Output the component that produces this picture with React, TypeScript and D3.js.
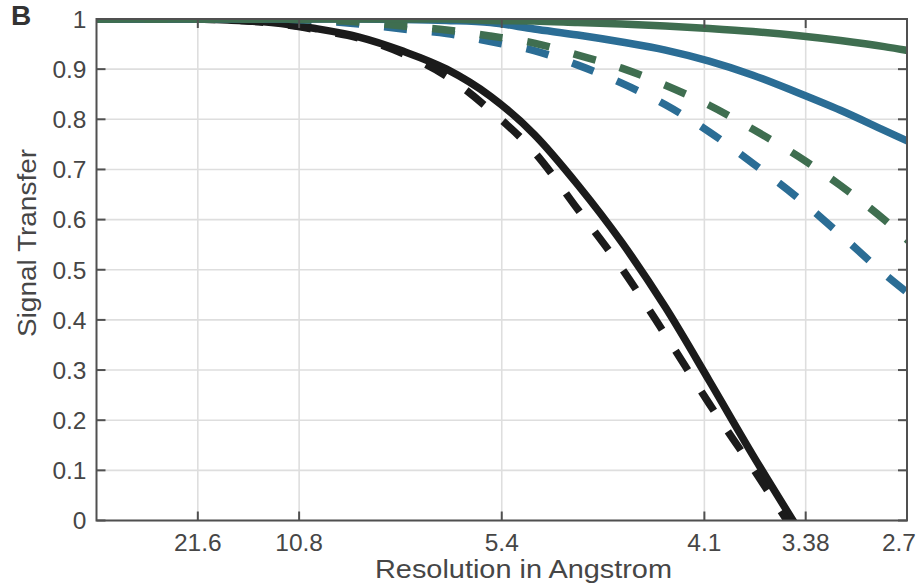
import React from "react";
import * as d3 from "d3";

// Spatial frequency (1/Å) sampling of the curves
const FREQ = [0, 0.02, 0.04, 0.06, 0.08, 0.1, 0.12, 0.14, 0.16, 0.18, 0.2, 0.22, 0.24, 0.26, 0.28, 0.3, 0.32, 0.34, 0.36, 0.371];

const BLACK_SOLID = [1, 1, 1, 0.998, 0.993, 0.981, 0.964, 0.936, 0.9, 0.846, 0.77, 0.669, 0.555, 0.425, 0.279, 0.13, -0.012, null, null, null];
const BLACK_DASHED = [1, 1, 1, 0.998, 0.992, 0.979, 0.962, 0.931, 0.886, 0.818, 0.735, 0.62, 0.503, 0.37, 0.233, 0.104, -0.03, null, null, null];
const BLUE_SOLID = [1, 1, 1, 1, 1, 1, 1, 0.999, 0.997, 0.993, 0.98, 0.968, 0.954, 0.938, 0.916, 0.888, 0.854, 0.818, 0.778, 0.756];
const BLUE_DASHED = [1, 1, 1, 1, 1, 0.997, 0.99, 0.98, 0.971, 0.955, 0.937, 0.908, 0.872, 0.829, 0.775, 0.712, 0.645, 0.57, 0.492, 0.453];
const GREEN_SOLID = [1, 1, 1, 1, 1, 1, 1, 1, 1, 0.997, 0.996, 0.993, 0.99, 0.986, 0.981, 0.975, 0.967, 0.957, 0.945, 0.937];
const GREEN_DASHED = [1, 1, 1, 1, 1, 0.998, 0.994, 0.986, 0.978, 0.966, 0.952, 0.928, 0.902, 0.868, 0.828, 0.78, 0.728, 0.668, 0.6, 0.558];

const X_TICK_FREQ = [0.0463, 0.0926, 0.1852, 0.2778, 0.3241, 0.3704];
const X_TICK_LABELS = ["21.6", "10.8", "5.4", "4.1", "3.38", "2.7"];
const Y_TICKS = [0, 0.1, 0.2, 0.3, 0.4, 0.5, 0.6, 0.7, 0.8, 0.9, 1];

const W = 918;
const H = 587;
const L = 96.5;
const R = 907;
const T = 19;
const B = 520.5;

const FONT = "'Liberation Sans', Arial, Helvetica, sans-serif";
const AXIS_COLOR = "#505050";
const TEXT_COLOR = "#464646";
const GRID_COLOR = "#dedede";

const SERIES = [
  { values: BLACK_SOLID, color: "#1b1b1b", dash: null },
  { values: BLACK_DASHED, color: "#1b1b1b", dash: "23 25" },
  { values: BLUE_SOLID, color: "#2b6d95", dash: null },
  { values: BLUE_DASHED, color: "#2b6d95", dash: "23 25" },
  { values: GREEN_DASHED, color: "#3f6e50", dash: "23 25" },
  { values: GREEN_SOLID, color: "#3f6e50", dash: null },
];

export default function App() {
  const x = d3.scaleLinear().domain([0, 0.3704]).range([L, R]);
  const y = d3.scaleLinear().domain([0, 1]).range([B, T]);

  const line = d3
    .line<[number, number | null]>()
    .defined((d) => d[1] !== null)
    .x((d) => x(d[0]))
    .y((d) => y(d[1] as number))
    .curve(d3.curveMonotoneX);

  const tickLen = 9;

  return (
    <svg
      width={W}
      height={H}
      style={{ position: "absolute", left: 0, top: 0, background: "#fff" }}
      fontFamily={FONT}
    >
      <defs>
        <clipPath id="plotClip">
          <rect x={L} y={T} width={R - L} height={B - T} />
        </clipPath>
      </defs>
      <rect x={0} y={0} width={W} height={H} fill="#fff" />

      {/* grid */}
      {X_TICK_FREQ.map((f, i) => (
        <line key={"gx" + i} x1={x(f)} x2={x(f)} y1={T} y2={B} stroke={GRID_COLOR} strokeWidth={1.6} />
      ))}
      {Y_TICKS.map((v, i) => (
        <line key={"gy" + i} x1={L} x2={R} y1={y(v)} y2={y(v)} stroke={GRID_COLOR} strokeWidth={1.6} />
      ))}

      {/* curves */}
      <g clipPath="url(#plotClip)">
        {SERIES.map((s, i) => {
          const pts = FREQ.map((f, j) => [f, s.values[j]] as [number, number | null]);
          return (
            <path
              key={"s" + i}
              d={line(pts) || ""}
              fill="none"
              stroke={s.color}
              strokeWidth={7.5}
              strokeDasharray={s.dash || undefined}
              strokeLinecap="butt"
              strokeLinejoin="round"
            />
          );
        })}
      </g>

      {/* axes box */}
      <rect x={L} y={T} width={R - L} height={B - T} fill="none" stroke={AXIS_COLOR} strokeWidth={2} />

      {/* ticks */}
      {Y_TICKS.map((v, i) => (
        <g key={"yt" + i}>
          <line x1={L} x2={L + tickLen} y1={y(v)} y2={y(v)} stroke={AXIS_COLOR} strokeWidth={2} />
          <line x1={R} x2={R - tickLen} y1={y(v)} y2={y(v)} stroke={AXIS_COLOR} strokeWidth={2} />
          <text
            x={L - 10}
            y={y(v)}
            dy={8.8}
            textAnchor="end"
            fontSize={24.5}
            fill={TEXT_COLOR}
          >
            {d3.format("~g")(v)}
          </text>
        </g>
      ))}
      {X_TICK_FREQ.map((f, i) => {
        const px = x(f);
        const nearEdge = px + 18 > W - 1;
        return (
          <g key={"xt" + i}>
            <line x1={px} x2={px} y1={B} y2={B - tickLen} stroke={AXIS_COLOR} strokeWidth={2} />
            <line x1={px} x2={px} y1={T} y2={T + tickLen} stroke={AXIS_COLOR} strokeWidth={2} />
            <text
              x={nearEdge ? W - 2 : px}
              y={550.5}
              textAnchor={nearEdge ? "end" : "middle"}
              fontSize={24.5}
              fill={TEXT_COLOR}
            >
              {X_TICK_LABELS[i]}
            </text>
          </g>
        );
      })}

      {/* axis titles */}
      <text
        x={523.5}
        y={578}
        textAnchor="middle"
        fontSize={25}
        fill={TEXT_COLOR}
        textLength={297}
        lengthAdjust="spacingAndGlyphs"
      >
        Resolution in Angstrom
      </text>
      <text
        transform="translate(36,243) rotate(-90)"
        textAnchor="middle"
        fontSize={25}
        fill={TEXT_COLOR}
        textLength={188}
        lengthAdjust="spacingAndGlyphs"
      >
        Signal Transfer
      </text>

      {/* panel letter */}
      <text x={11} y={25} fontSize={28} fontWeight="bold" fill="#333">
        B
      </text>
    </svg>
  );
}
